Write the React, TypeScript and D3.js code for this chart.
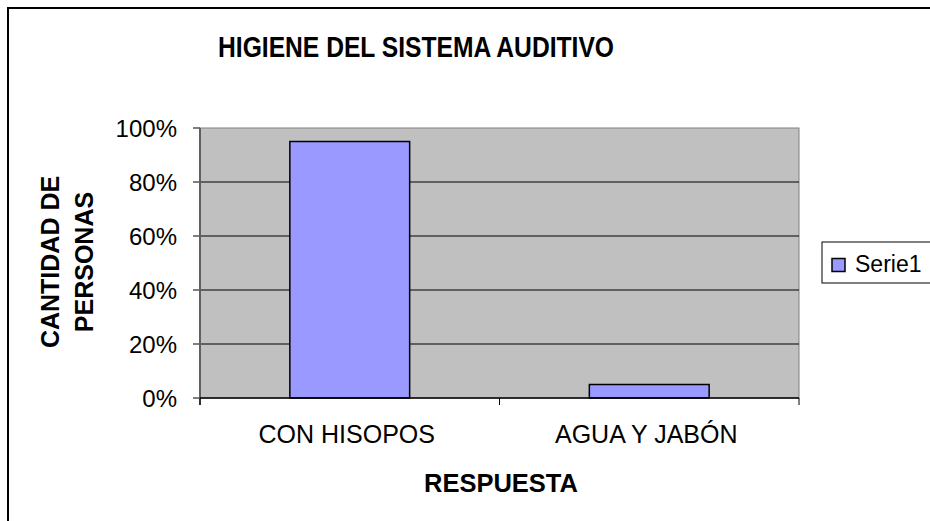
import React from "react";
import * as d3 from "d3";

const categories = ["CON HISOPOS", "AGUA Y JABÓN"];
const serie1 = [0.95, 0.05];
const yTicks = [0, 0.2, 0.4, 0.6, 0.8, 1];
const seriesName = "Serie1";

const W = 930;
const H = 521;
const plot = { left: 200, right: 799, top: 128, bottom: 398 };
const font = "'Liberation Sans', Arial, sans-serif";

export default function App() {
  const x = d3
    .scaleBand<string>()
    .domain(categories)
    .range([plot.left, plot.right])
    .paddingInner(0.6)
    .paddingOuter(0.3);
  const xOuter = d3.scaleBand<string>().domain(categories).range([plot.left, plot.right]);
  const y = d3.scaleLinear().domain([0, 1]).range([plot.bottom, plot.top]);
  const fmt = d3.format(".0%");

  const boundaries = [plot.left, ...categories.map((c) => (xOuter(c) as number) + xOuter.bandwidth())];

  return (
    <svg
      width={W}
      height={H}
      style={{ position: "absolute", left: 0, top: 0, display: "block" }}
      fontFamily={font}
    >
      <rect x={0} y={0} width={W} height={H} fill="#fff" />
      <rect x={8} y={8} width={W + 20} height={H + 20} fill="#fff" stroke="#000" strokeWidth={2} />

      <text
        x={416}
        y={57}
        textAnchor="middle"
        fontSize={29}
        fontWeight="bold"
        textLength={396}
        lengthAdjust="spacingAndGlyphs"
      >
        HIGIENE DEL SISTEMA AUDITIVO
      </text>

      {/* plot area */}
      <rect
        x={plot.left}
        y={plot.top}
        width={plot.right - plot.left}
        height={plot.bottom - plot.top}
        fill="#c0c0c0"
        stroke="#808080"
        strokeWidth={1}
      />
      {yTicks.map((t) => (
        <g key={t}>
          {t > 0 && t < 1 && (
            <line x1={plot.left} x2={plot.right} y1={y(t)} y2={y(t)} stroke="#000" strokeWidth={1} />
          )}
          <line x1={plot.left - 7} x2={plot.left} y1={y(t)} y2={y(t)} stroke="#000" strokeWidth={1} />
          <text x={plot.left - 23} y={y(t) + 8.5} textAnchor="end" fontSize={24}>
            {fmt(t)}
          </text>
        </g>
      ))}
      <line x1={plot.left} x2={plot.left} y1={plot.top} y2={plot.bottom + 7} stroke="#606060" strokeWidth={2} />

      {categories.map((c, i) => (
        <rect
          key={c}
          x={x(c)}
          y={y(serie1[i])}
          width={x.bandwidth()}
          height={plot.bottom - y(serie1[i])}
          fill="#9999ff"
          stroke="#000"
          strokeWidth={1.5}
        />
      ))}

      <line x1={plot.left} x2={plot.right} y1={plot.bottom} y2={plot.bottom} stroke="#000" strokeWidth={1.5} />
      {boundaries.map((b, i) => (
        <line key={i} x1={b} x2={b} y1={plot.bottom} y2={plot.bottom + 7} stroke="#000" strokeWidth={1} />
      ))}
      {categories.map((c) => (
        <text key={c} x={(x(c) as number) + x.bandwidth() / 2 - 3} y={443} textAnchor="middle" fontSize={25}>
          {c}
        </text>
      ))}

      <text x={501} y={491.5} textAnchor="middle" fontSize={25.5} fontWeight="bold">
        RESPUESTA
      </text>
      <text transform="translate(0,262) rotate(-90)" textAnchor="middle" fontSize={25} fontWeight="bold">
        <tspan x={0} y={59}>CANTIDAD DE</tspan>
        <tspan x={0} y={93}>PERSONAS</tspan>
      </text>

      {/* legend */}
      <rect x={822} y={242} width={130} height={41} fill="#fff" stroke="#000" strokeWidth={1} />
      <rect x={832} y={258.5} width={13} height={13} fill="#9999ff" stroke="#000" strokeWidth={1.5} />
      <text x={855} y={271.5} fontSize={23}>
        {seriesName}
      </text>
    </svg>
  );
}
